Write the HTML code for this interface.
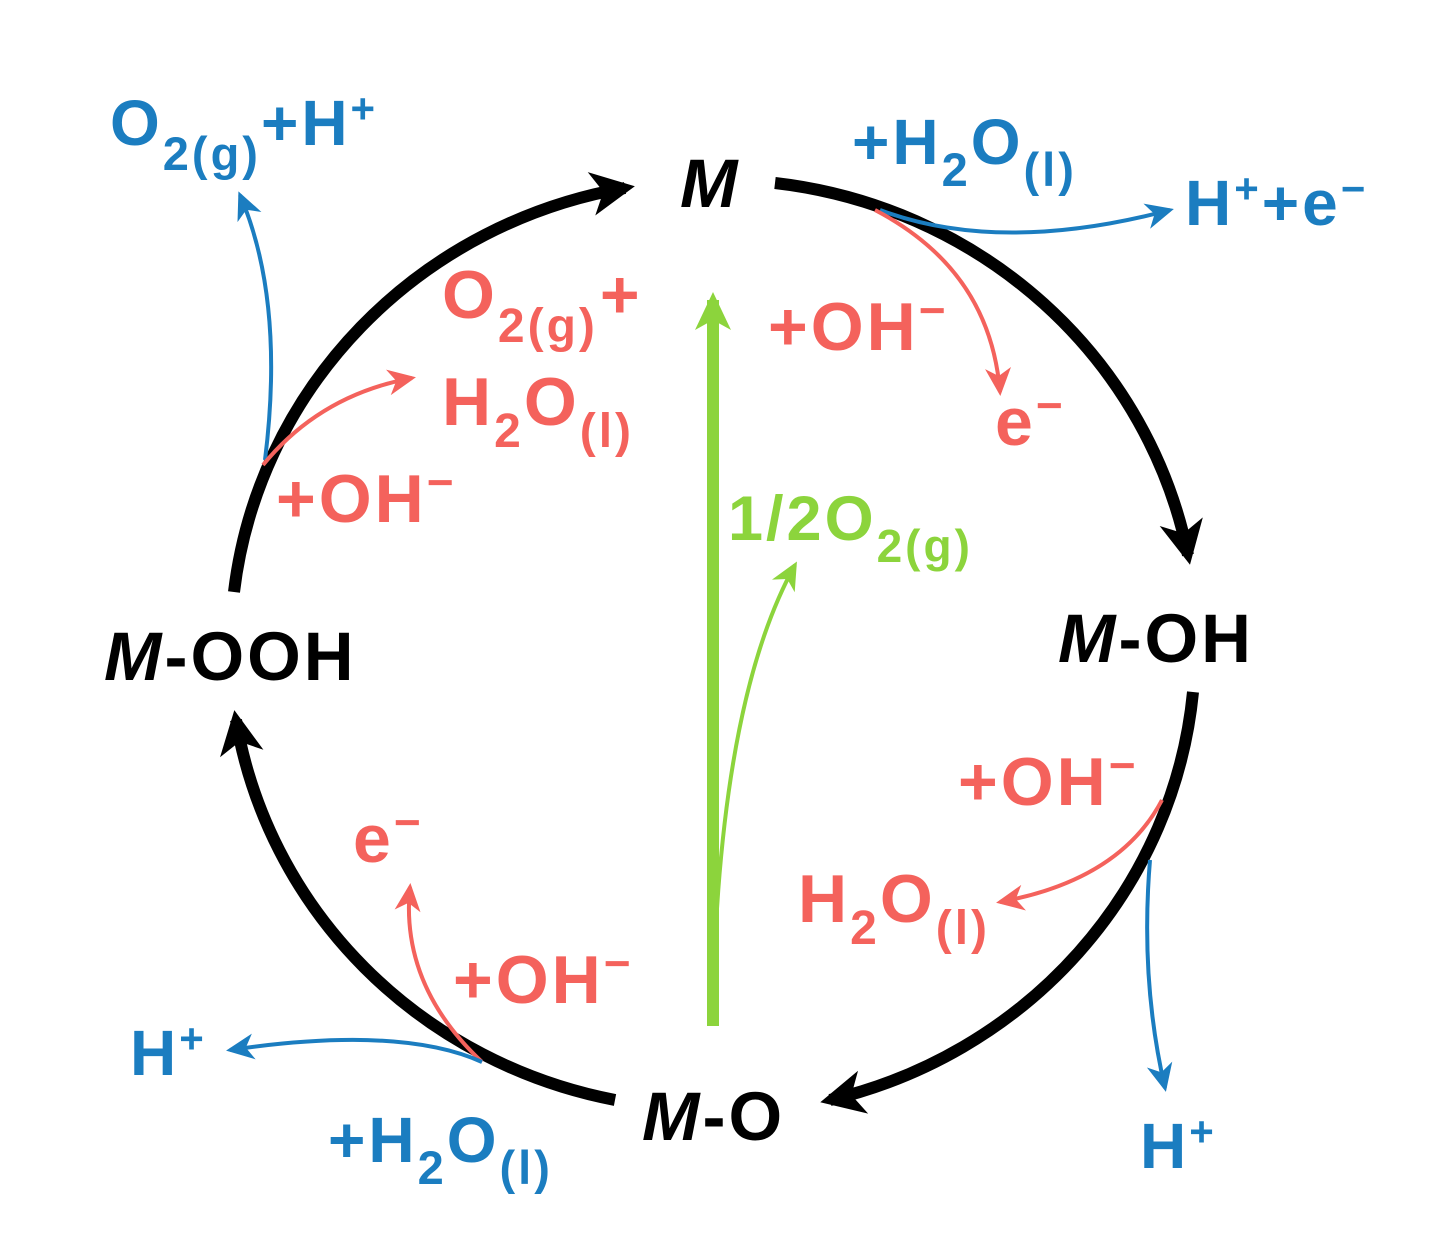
<!DOCTYPE html>
<html><head><meta charset="utf-8"><style>
html,body{margin:0;padding:0;background:#fff;}
svg{display:block;}
text{font-family:"Liberation Sans",sans-serif;font-weight:bold;letter-spacing:3px;}
.k{fill:#000;font-size:69px;}
.r{fill:#f4625c;font-size:68px;}
.b{fill:#1b7dc0;font-size:64px;}
.g{fill:#8cd43c;font-size:63px;}
</style></head><body>
<svg width="1436" height="1242" viewBox="0 0 1436 1242" xmlns="http://www.w3.org/2000/svg">
<defs>
<marker id="ar" viewBox="0 0 10 10" refX="0" refY="0" markerWidth="10" markerHeight="10" orient="auto" markerUnits="userSpaceOnUse" style="overflow:visible">
<path d="M4,0 L-24,-13 L-16,0 L-24,13 Z" fill="#f4625c"/></marker>
<marker id="ab" viewBox="0 0 10 10" refX="0" refY="0" markerWidth="10" markerHeight="10" orient="auto" markerUnits="userSpaceOnUse" style="overflow:visible">
<path d="M4,0 L-24,-13 L-16,0 L-24,13 Z" fill="#1b7dc0"/></marker>
<marker id="ag" viewBox="0 0 10 10" refX="0" refY="0" markerWidth="10" markerHeight="10" orient="auto" markerUnits="userSpaceOnUse" style="overflow:visible">
<path d="M4,0 L-24,-13 L-16,0 L-24,13 Z" fill="#8cd43c"/></marker>
<marker id="ak2" viewBox="0 0 10 10" refX="0" refY="0" markerWidth="10" markerHeight="10" orient="auto" markerUnits="userSpaceOnUse" style="overflow:visible">
<path d="M10,0 L-34,-22 L-22,0 L-34,22 Z" fill="#000"/></marker>
<marker id="ag2" viewBox="0 0 10 10" refX="0" refY="0" markerWidth="10" markerHeight="10" orient="auto" markerUnits="userSpaceOnUse" style="overflow:visible">
<path d="M8,0 L-30,-18 L-20,0 L-30,18 Z" fill="#8cd43c"/></marker>
</defs>

<g fill="none" stroke="#000" stroke-width="12">
<path d="M234,592 A478,465 0 0 1 625,188" marker-end="url(#ak2)"/>
<path d="M775,183 A478,465 0 0 1 1188,555" marker-end="url(#ak2)"/>
<path d="M1193,692 A478,465 0 0 1 830,1100" marker-end="url(#ak2)"/>
<path d="M615,1100 A478,465 0 0 1 236,720" marker-end="url(#ak2)"/>
</g>

<line x1="713" y1="1026" x2="713" y2="300" stroke="#8cd43c" stroke-width="12" marker-end="url(#ag2)"/>
<path d="M713,1000 Q720,700 795,565" fill="none" stroke="#8cd43c" stroke-width="4" marker-end="url(#ag)"/>

<g fill="none" stroke-width="4">
<path d="M265,460 Q285,300 240,195" stroke="#1b7dc0" marker-end="url(#ab)"/>
<path d="M263,465 Q320,395 412,378" stroke="#f4625c" marker-end="url(#ar)"/>
<path d="M880,210 Q1000,255 1170,210" stroke="#1b7dc0" marker-end="url(#ab)"/>
<path d="M875,210 Q990,270 1000,392" stroke="#f4625c" marker-end="url(#ar)"/>
<path d="M1162,800 Q1120,880 1000,902" stroke="#f4625c" marker-end="url(#ar)"/>
<path d="M1150,860 Q1140,980 1165,1088" stroke="#1b7dc0" marker-end="url(#ab)"/>
<path d="M482,1062 Q400,985 410,887" stroke="#f4625c" marker-end="url(#ar)"/>
<path d="M482,1062 Q400,1025 230,1050" stroke="#1b7dc0" marker-end="url(#ab)"/>
</g>

<text class="b" x="110" y="145">O<tspan font-size="47" dy="25">2(g)</tspan><tspan dy="-25">+H</tspan><tspan font-size="42" dy="-22">+</tspan></text>
<text class="k" x="680" y="207" font-style="italic">M</text>
<text class="b" x="852" y="164">+H<tspan font-size="47" dy="22">2</tspan><tspan dy="-22">O</tspan><tspan font-size="47" dy="22">(l)</tspan></text>
<text class="b" x="1185" y="225">H<tspan font-size="42" dy="-22">+</tspan><tspan dy="22">+e</tspan><tspan font-size="42" dy="-22">−</tspan></text>

<text class="r" x="442" y="318">O<tspan font-size="48" dy="24">2(g)</tspan><tspan dy="-24" dx="2">+</tspan></text>
<text class="r" x="442" y="425">H<tspan font-size="48" dy="22">2</tspan><tspan dy="-22">O</tspan><tspan font-size="48" dy="22">(l)</tspan></text>
<text class="r" x="768" y="350">+OH<tspan font-size="46" dy="-24">−</tspan></text>
<text class="r" x="995" y="445">e<tspan font-size="46" dy="-24">−</tspan></text>
<text class="r" x="276" y="522">+OH<tspan font-size="46" dy="-24">−</tspan></text>
<text class="g" x="728" y="540">1/2O<tspan font-size="46" dy="22">2(g)</tspan></text>

<text class="k" x="104" y="680"><tspan font-style="italic">M</tspan>-OOH</text>
<text class="k" x="1058" y="662"><tspan font-style="italic">M</tspan>-OH</text>

<text class="r" x="958" y="805">+OH<tspan font-size="46" dy="-24">−</tspan></text>
<text class="r" x="798" y="922">H<tspan font-size="48" dy="22">2</tspan><tspan dy="-22">O</tspan><tspan font-size="48" dy="22">(l)</tspan></text>
<text class="r" x="353" y="862">e<tspan font-size="46" dy="-24">−</tspan></text>
<text class="r" x="453" y="1003">+OH<tspan font-size="46" dy="-24">−</tspan></text>

<text class="b" x="130" y="1075">H<tspan font-size="42" dy="-22">+</tspan></text>
<text class="k" x="642" y="1140"><tspan font-style="italic">M</tspan>-O</text>
<text class="b" x="328" y="1162">+H<tspan font-size="47" dy="22">2</tspan><tspan dy="-22">O</tspan><tspan font-size="47" dy="22">(l)</tspan></text>
<text class="b" x="1140" y="1168">H<tspan font-size="42" dy="-22">+</tspan></text>
</svg>
</body></html>
